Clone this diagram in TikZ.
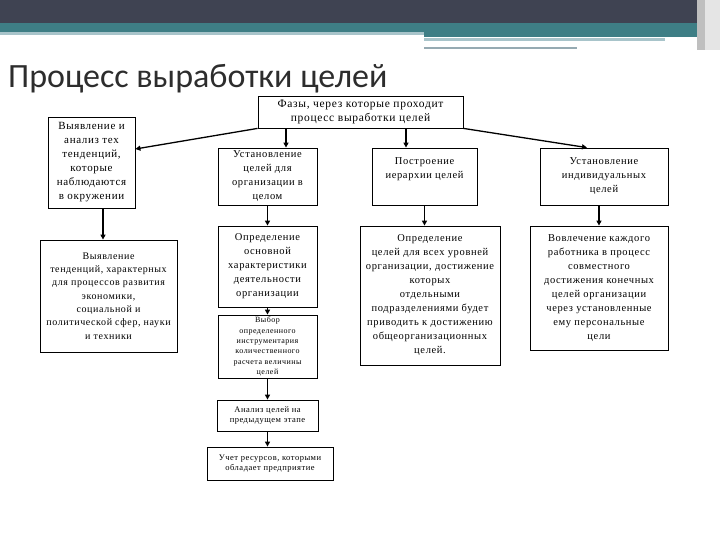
\documentclass[tikz,border=0pt]{standalone}
\usepackage{fontspec}
\setmainfont{Liberation Serif}[LetterSpace=6]
\newfontfamily\titlefont{Carlito}
\usetikzlibrary{arrows.meta,positioning}
\definecolor{barslate}{RGB}{63,67,82}
\definecolor{barteal}{RGB}{62,126,133}
\definecolor{barpale}{RGB}{168,196,202}
\definecolor{bargray}{RGB}{150,170,178}
\definecolor{titlegray}{RGB}{45,45,45}

\begin{document}
\begin{tikzpicture}[x=1pt, y=-1pt,
  box/.style={draw, line width=0.8pt, align=center, inner sep=1pt,
              font=\fontsize{10.5}{14}\selectfont},
  smallbox/.style={box, font=\fontsize{8}{10.3}\selectfont},
  arr/.style={-{Triangle[length=5pt,width=5pt]}, line width=1.3pt}]
  \useasboundingbox (0,0) rectangle (720,540);
  % header bars
  \fill[barslate] (0,0) rectangle (697,23);
  \fill[barteal] (0,23) rectangle (697,33);
  \fill[barpale] (0,32) rectangle (424,35);
  \fill[barteal] (424,33) rectangle (697,37);
  \fill[barpale] (424,38) rectangle (665,41);
  \fill[bargray] (424,47) rectangle (577,49);
  \fill[black!25] (697,0) rectangle (705,50);
  \fill[black!10] (705,0) rectangle (720,50);
  \node[anchor=base west, inner sep=0, text=titlegray,
        font=\titlefont\fontsize{34}{40}\selectfont] (title) at (8,88) {Процесс выработки целей};

  \node[box, minimum width=205, minimum height=32, font=\fontsize{11.5}{14}\selectfont] (top) at (360.5,112)
    {Фазы, через которые проходит\\процесс выработки целей};
  \node[box, minimum width=87, minimum height=91, font=\fontsize{11}{14}\selectfont] (l1) at (91.5,162.5)
    {Выявление и\\анализ тех\\тенденций,\\которые\\наблюдаются\\в окружении};
  \node[box, minimum width=137, minimum height=112, font=\fontsize{10}{13.3}\selectfont] (l2) at (108.5,296)
    {Выявление\\тенденций, характерных\\для процессов развития\\экономики,\\социальной и\\политической сфер, науки\\и техники};

  \node[box, minimum width=99, minimum height=57] (c1a) at (267.5,176.5)
    {Установление\\целей для\\организации в\\целом};
  \node[box, minimum width=99, minimum height=81] (c1b) at (267.5,266.5)
    {Определение\\основной\\характеристики\\деятельности\\организации};
  \node[smallbox, minimum width=99, minimum height=63] (c1c) at (267.5,346.5)
    {Выбор\\определенного\\инструментария\\количественного\\расчета величины\\целей};
  \node[smallbox, minimum width=101, minimum height=31, font=\fontsize{8.5}{10.5}\selectfont] (c1d) at (267.5,415.5)
    {Анализ целей на\\предыдущем этапе};
  \node[smallbox, minimum width=126, minimum height=33, font=\fontsize{8.5}{10.5}\selectfont] (c1e) at (270,463.5)
    {Учет ресурсов, которыми\\обладает предприятие};

  \node[box, minimum width=105, minimum height=57] (c2a) at (424.5,176.5)
    {Построение\\иерархии целей\\[2pt]};
  \node[box, minimum width=140, minimum height=139] (c2b) at (430,295.5)
    {Определение\\целей для всех уровней\\организации, достижение\\которых\\отдельными\\подразделениями будет\\приводить к достижению\\общеорганизационных\\целей.};

  \node[box, minimum width=128, minimum height=57] (c3a) at (604,176.5)
    {Установление\\индивидуальных\\целей};
  \node[box, minimum width=138, minimum height=124] (c3b) at (599,288)
    {Вовлечение каждого\\работника в процесс\\совместного\\достижения конечных\\целей организации\\через установленные\\ему персональные\\цели};

  \draw[arr] (top.south west) -- ([yshift=13.5pt]l1.east);
  \draw[arr] ([xshift=18.5pt]c1a.north |- top.south) -- ([xshift=18.5pt]c1a.north);
  \draw[arr] ([xshift=-18.5pt]c2a.north |- top.south) -- ([xshift=-18.5pt]c2a.north);
  \draw[arr] (top.south east) -- ([xshift=-17pt]c3a.north);
  \draw[arr] ([xshift=11.5pt]l1.south) -- ([xshift=-5.5pt]l2.north);
  \draw[arr] (c1a) -- (c1b); \draw[arr] (c1b) -- (c1c);
  \draw[arr] (c1c) -- (c1d); \draw[arr] (c1d.south) -- (c1d.south |- c1e.north);
  \draw[arr] (c2a.south) -- (c2a.south |- c2b.north);
  \draw[arr] (c3b.north |- c3a.south) -- (c3b.north);
\end{tikzpicture}
\end{document}
